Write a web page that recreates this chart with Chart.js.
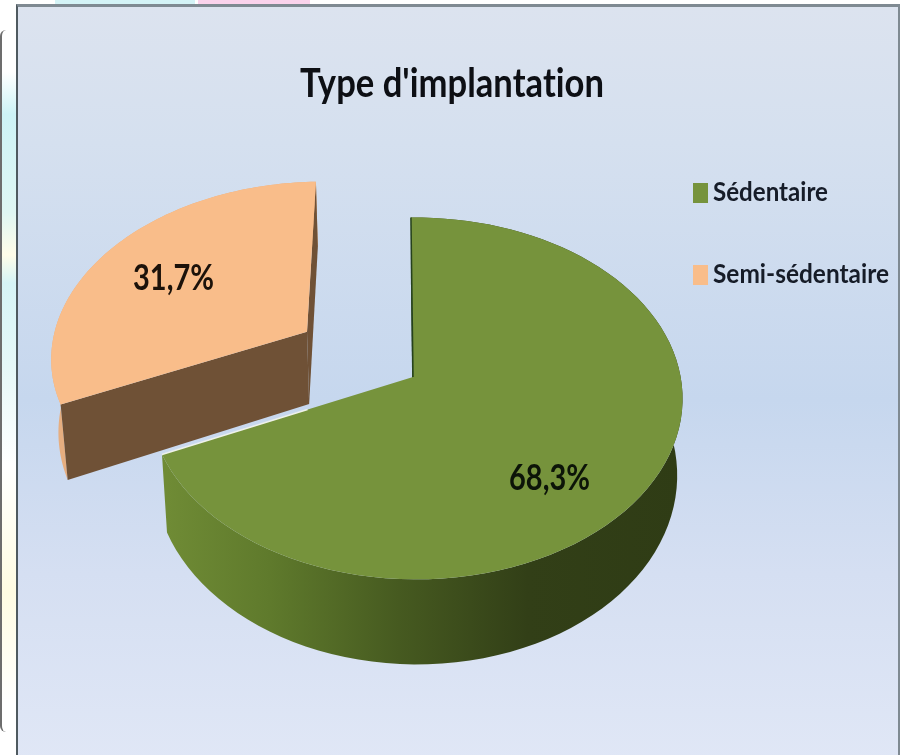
<!DOCTYPE html>
<html lang="fr">
<head>
<meta charset="utf-8">
<title>Type d'implantation</title>
<script src="https://cdn.jsdelivr.net/npm/chart.js@4"></script>
<style>
  html, body { margin: 0; width: 902px; height: 755px; overflow: hidden; background: #fff; }
  .side { position: absolute; left: 0; top: 30px; width: 16px; height: 702px; box-sizing: border-box;
          border-left: 2px solid #6d6d6d; border-radius: 6px 0 0 6px;
          background: linear-gradient(180deg, #fff 0, #fff 6%, #cdf3f6 12%, #dff6f3 26%, #fffde9 32%, #d6f4f6 36%, #e6f8f8 48%, #fff 62%, #fffce2 80%, #fffdf0 88%, #fff 96%); }
  .strip { position: absolute; top: 0; height: 5px; }
  .frame { position: absolute; left: 16px; top: 4px; width: 884px; height: 760px; box-sizing: border-box;
           border: 2px solid #7f8a92; border-top-width: 3px; border-left-color: #4f5a60;
           background: linear-gradient(180deg, #dce3ef 0, #d5e0ef 18%, #c6d7ee 52%, #d5dff2 75%, #e0e7f6 100%); }
  canvas { position: absolute; left: 0; top: 0; }
</style>
</head>
<body>
<div class="side"></div>
<div class="strip" style="left:55px;width:140px;background:#d4f3f6"></div>
<div class="strip" style="left:198px;width:112px;background:#fbd3ec"></div>
<div class="frame"></div>
<canvas id="pieChart" width="902" height="755"></canvas>
<script>
/* ── DATA ──────────────────────────────────────────────────── */
const categories = ['Sédentaire', 'Semi-sédentaire'];
const shares     = [68.3, 31.7];
const chartTitle = "Type d'implantation";

/* ── STYLE ─────────────────────────────────────────────────── */
const topColors = ['#76933c', '#f9bd8a'];
const cutColors = ['#26421c', '#6f5136'];
const rimColors = ['#4d5f22', '#e6ae80'];
const SQUASH = 0.673;   // ellipse height / width
const TILT   = 0.1185;  // front of the pie is drawn larger than the back
const LEAN   = 0.01;    // right side slightly larger than the left
const DEPTH  = 75;

/* ── 3D PROJECTION ─────────────────────────────────────────── */
// u, v are positions on the flat pie (1 = radius), z is 0 on top and 1 at the bottom
function project(arc, u, v, z) {
  const s = 1 / (1 - TILT * v - LEAN * u);
  const dx = arc.outerRadius * u * s * (1 - 0.02 * z);
  return { x: arc.x + dx, y: arc.y + arc.outerRadius * SQUASH * v * s + z * DEPTH * s };
}

function slicePoints(arc, z) {
  const mid = (arc.startAngle + arc.endAngle) / 2;
  const e = (arc.options.offset || 0) / arc.outerRadius;
  const ox = Math.cos(mid) * e, oy = Math.sin(mid) * e;
  const pts = [];
  for (let i = 0; i <= 90; i++) {
    const a = arc.startAngle + (arc.endAngle - arc.startAngle) * i / 90;
    pts.push(project(arc, ox + Math.cos(a), oy + Math.sin(a), z));
  }
  return { apex: project(arc, ox, oy, z), rim: pts };
}

function poly(ctx, pts, fill) {
  ctx.beginPath();
  pts.forEach((p, i) => i ? ctx.lineTo(p.x, p.y) : ctx.moveTo(p.x, p.y));
  ctx.closePath();
  ctx.fillStyle = fill;
  ctx.fill();
}

function rimFill(ctx, index) {
  if (index !== 0) return rimColors[index];
  const g = ctx.createLinearGradient(167, 0, 682, 0);
  g.addColorStop(0, '#6f8b35');
  g.addColorStop(0.2, '#5f7a2c');
  g.addColorStop(0.45, '#465a20');
  g.addColorStop(0.7, '#323f17');
  g.addColorStop(1, '#2f3c15');
  return g;
}

function drawSlice(ctx, arc, index) {
  const up = slicePoints(arc, 0), low = slicePoints(arc, 1);
  const last = up.rim.length - 1;
  // outer wall, then the cut faces that can be seen, then the top
  poly(ctx, up.rim.concat(low.rim.slice().reverse()), rimFill(ctx, index));
  poly(ctx, [up.apex, up.rim[0], low.rim[0], low.apex], cutColors[index]);
  if (index === 1) poly(ctx, [up.apex, up.rim[last], low.rim[last], low.apex], cutColors[index]);
  poly(ctx, [up.apex].concat(up.rim), topColors[index]);

  if (index === 0) {
    // thin dark edge on the back cut, pale line on the front cut
    ctx.lineWidth = 1.5;
    ctx.strokeStyle = cutColors[0];
    ctx.beginPath();
    ctx.moveTo(up.apex.x, up.apex.y);
    ctx.lineTo(up.rim[0].x, up.rim[0].y);
    ctx.stroke();
    const m = { x: up.apex.x + (up.rim[last].x - up.apex.x) * 0.42, y: up.apex.y + (up.rim[last].y - up.apex.y) * 0.42 };
    ctx.strokeStyle = '#eef1ea';
    ctx.beginPath();
    ctx.moveTo(m.x, m.y);
    ctx.lineTo(up.rim[last].x, up.rim[last].y);
    ctx.stroke();
  }
}

/* ── TEXT ──────────────────────────────────────────────────── */
// Lato is wider than the original face, so each string is squeezed to its width
function squeezedText(ctx, text, left, middle, width, font, color) {
  ctx.save();
  ctx.font = font;
  ctx.letterSpacing = '0.01px'; // keeps the "ti" pair from joining
  ctx.fillStyle = color;
  ctx.textAlign = 'left';
  ctx.textBaseline = 'middle';
  ctx.translate(left, middle);
  ctx.scale(width / ctx.measureText(text).width, 1);
  ctx.fillText(text, 0, 0);
  ctx.restore();
}

const pie3d = {
  id: 'pie3d',
  beforeDatasetsDraw(chart) {
    const ctx = chart.ctx;
    const arcs = chart.getDatasetMeta(0).data;
    // exploded slice sits behind the big one
    drawSlice(ctx, arcs[1], 1);
    drawSlice(ctx, arcs[0], 0);
    return false;
  },
  afterDraw(chart) {
    const ctx = chart.ctx;
    squeezedText(ctx, chartTitle, 300, 84, 304, 'bold 40px Lato', '#0d0f14');

    const pct = v => v.toFixed(1).replace('.', ',') + '%';
    squeezedText(ctx, pct(shares[0]), 509, 478, 81, 'bold 36px Lato', '#0c1408');
    squeezedText(ctx, pct(shares[1]), 133, 278, 81, 'bold 36px Lato', '#1c120a');

    const legendY = [193, 275], legendW = [115, 176];
    categories.forEach((name, i) => {
      ctx.fillStyle = topColors[i];
      ctx.fillRect(693, legendY[i] - 10, 15, 20);
      squeezedText(ctx, name, 713, legendY[i], legendW[i], 'bold 26px Lato', '#161c28');
    });
  }
};

/* ── CHART INIT ────────────────────────────────────────────── */
new Chart(document.getElementById('pieChart'), {
  type: 'pie',
  data: {
    labels: categories,
    datasets: [{
      data: shares,
      backgroundColor: topColors,
      borderWidth: 0,
      offset: [0, 130],
      radius: 265
    }]
  },
  options: {
    responsive: false,
    animation: false,
    rotation: -0.5,
    layout: { padding: { left: 0, right: 76, top: 0, bottom: 1 } },
    plugins: { legend: { display: false }, title: { display: false }, tooltip: { enabled: false } }
  },
  plugins: [pie3d]
});
</script>
</body>
</html>
